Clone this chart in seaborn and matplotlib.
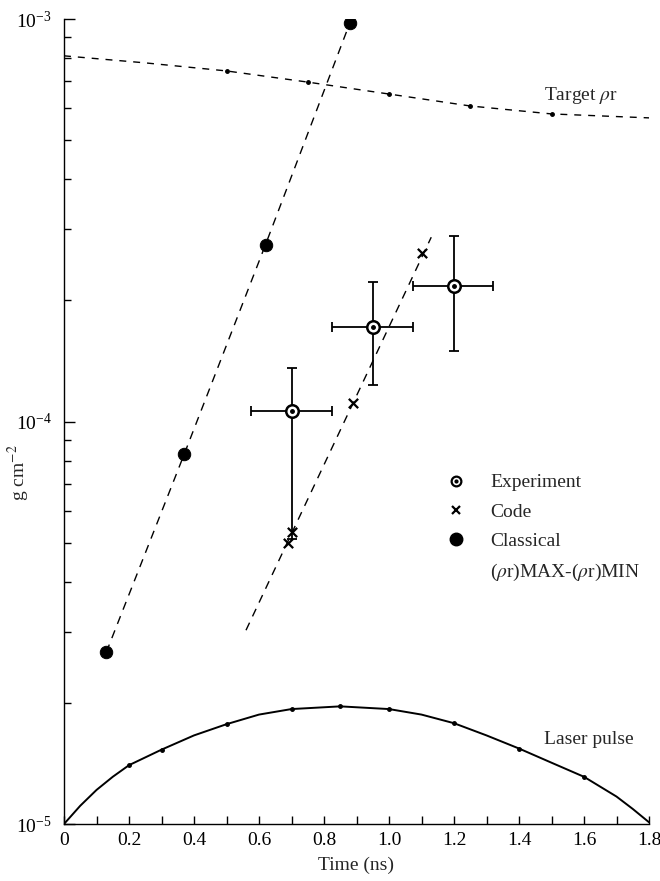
import matplotlib
matplotlib.use('Agg')
import matplotlib.pyplot as plt
import seaborn as sns
import numpy as np
from matplotlib.lines import Line2D
from matplotlib.legend_handler import HandlerTuple
from matplotlib.ticker import MultipleLocator, LogLocator, FuncFormatter, NullFormatter

# ---- data ----
laser_t = [0.0, 0.05, 0.1, 0.15, 0.2, 0.3, 0.4, 0.5, 0.6, 0.7, 0.85, 1.0,
           1.1, 1.2, 1.3, 1.4, 1.5, 1.6, 1.7, 1.75, 1.8]
laser_v = [1.0e-5, 1.11e-5, 1.215e-5, 1.31e-5, 1.40e-5, 1.53e-5, 1.66e-5, 1.77e-5,
           1.87e-5, 1.93e-5, 1.96e-5, 1.93e-5, 1.87e-5, 1.78e-5, 1.66e-5, 1.54e-5,
           1.42e-5, 1.31e-5, 1.17e-5, 1.09e-5, 1.01e-5]
laser_dot_t = [0.2, 0.3, 0.5, 0.7, 0.85, 1.0, 1.2, 1.4, 1.6]

target_t = [0.0, 0.25, 0.5, 0.75, 1.0, 1.25, 1.5, 1.8]
target_v = [8.1e-4, 7.78e-4, 7.43e-4, 6.97e-4, 6.51e-4, 6.08e-4, 5.81e-4, 5.68e-4]
target_dot_t = [0.5, 0.75, 1.0, 1.25, 1.5]

classical_t = [0.13, 0.37, 0.62, 0.88]
classical_v = [2.67e-5, 8.3e-5, 2.75e-4, 9.8e-4]

code_t = [0.69, 0.70, 0.89, 1.10]
code_v = [5.0e-5, 5.3e-5, 1.11e-4, 2.62e-4]
code_line_t = [0.56, 1.13]
code_line_v = [3.03e-5, 2.87e-4]

exp_t = [0.70, 0.95, 1.20]
exp_v = [1.06e-4, 1.72e-4, 2.17e-4]
exp_t_lo = [0.575, 0.825, 1.075]
exp_t_hi = [0.825, 1.075, 1.32]
exp_v_lo = [5.1e-5, 1.23e-4, 1.50e-4]
exp_v_hi = [1.36e-4, 2.22e-4, 2.89e-4]

sns.set_theme(style='ticks')
plt.rcParams['font.family'] = ['Liberation Serif', 'DejaVu Serif']
plt.rcParams['mathtext.fontset'] = 'stix'

fig = plt.figure(figsize=(6.6, 8.81), dpi=100)
ax = fig.add_axes([64 / 660, 57 / 881, 585 / 660, 805 / 881])
ax.set_yscale('log')

# laser pulse
sns.lineplot(x=laser_t, y=laser_v, ax=ax, color='black', lw=1.4,
             estimator=None, sort=False)
lmask = np.isin(laser_t, laser_dot_t)
ax.plot(np.array(laser_t)[lmask], np.array(laser_v)[lmask], 'o', ms=2.5, color='black')

# target rho r
sns.lineplot(x=target_t, y=target_v, ax=ax, color='black', lw=1.0,
             estimator=None, sort=False)
ax.lines[-1].set_dashes((5, 5))
tmask = np.isin(target_t, target_dot_t)
ax.plot(np.array(target_t)[tmask], np.array(target_v)[tmask], 'o', ms=2.5, color='black')

# classical
sns.lineplot(x=classical_t, y=classical_v, ax=ax, color='black', lw=1.0,
             estimator=None, sort=False)
ax.lines[-1].set_dashes((6, 5))
sns.scatterplot(x=classical_t, y=classical_v, ax=ax, color='black',
                edgecolor='black', s=80, zorder=4)

# code
sns.lineplot(x=code_line_t, y=code_line_v, ax=ax, color='black', lw=1.0,
             estimator=None, sort=False)
ax.lines[-1].set_dashes((6, 5))
sns.scatterplot(x=code_t, y=code_v, ax=ax, color='black', marker='x',
                s=45, linewidth=1.6, zorder=4)

# experiment
et = np.array(exp_t)
ev = np.array(exp_v)
xerr = [et - np.array(exp_t_lo), np.array(exp_t_hi) - et]
yerr = [ev - np.array(exp_v_lo), np.array(exp_v_hi) - ev]
ax.errorbar(et, ev, xerr=xerr, yerr=yerr, fmt='none', ecolor='black',
            elinewidth=1.3, capsize=3.5, capthick=1.3, zorder=3)
ax.plot(et, ev, 'o', ms=9, mfc='white', mec='black', mew=1.8, zorder=5)
ax.plot(et, ev, 'o', ms=2.5, color='black', zorder=6)

# axes
ax.set_xlim(0, 1.8)
ax.set_ylim(1e-5, 1e-3)
sns.despine(ax=ax)
for side in ['left', 'bottom']:
    ax.spines[side].set_color('black')
    ax.spines[side].set_linewidth(1.0)

ax.xaxis.set_major_locator(MultipleLocator(0.2))
ax.xaxis.set_minor_locator(MultipleLocator(0.1))
ax.xaxis.set_major_formatter(FuncFormatter(lambda v, _: '0' if abs(v) < 1e-9 else f'{v:.1f}'))
ax.yaxis.set_major_locator(LogLocator(base=10))
ax.yaxis.set_minor_locator(LogLocator(base=10, subs=np.arange(2, 10)))
ax.yaxis.set_minor_formatter(NullFormatter())

ax.tick_params(axis='x', which='both', direction='in', length=6, width=1,
               colors='black', labelsize=14, pad=6)
ax.tick_params(axis='y', which='major', direction='in', length=8, width=1,
               colors='black', labelsize=14, pad=9)
ax.tick_params(axis='y', which='minor', direction='in', length=5, width=1,
               colors='black')

ax.set_xlabel('Time (ns)', fontsize=14)
ax.xaxis.set_label_coords(0.5, -0.04)
ax.set_ylabel('g cm$^{-2}$', fontsize=14)
ax.yaxis.set_label_coords(-0.055, 0.436)

ax.text(1.59, 6.44e-4, 'Target $\\rho$r', ha='center', va='center', fontsize=14)
ax.text(1.615, 1.62e-5, 'Laser pulse', ha='center', va='center', fontsize=14)

# legend
h_exp = (Line2D([], [], ls='none', marker='o', ms=7, mfc='white', mec='black', mew=1.6),
         Line2D([], [], ls='none', marker='o', ms=2, color='black'))
h_code = Line2D([], [], ls='none', marker='x', ms=6, mew=1.6, color='black')
h_cls = Line2D([], [], ls='none', marker='o', ms=9, color='black')
h_diff = Line2D([], [], ls='none')
ax.legend([h_exp, h_code, h_cls, h_diff],
          ['Experiment', 'Code', 'Classical', '($\\rho$r)MAX-($\\rho$r)MIN'],
          handler_map={tuple: HandlerTuple(ndivide=1)},
          loc='upper left', bbox_to_anchor=(0.653, 0.435), frameon=False,
          fontsize=14, handlelength=1.0, handletextpad=1.28, borderpad=0,
          labelspacing=0.6, borderaxespad=0)

fig.savefig('out.png', dpi=100)
